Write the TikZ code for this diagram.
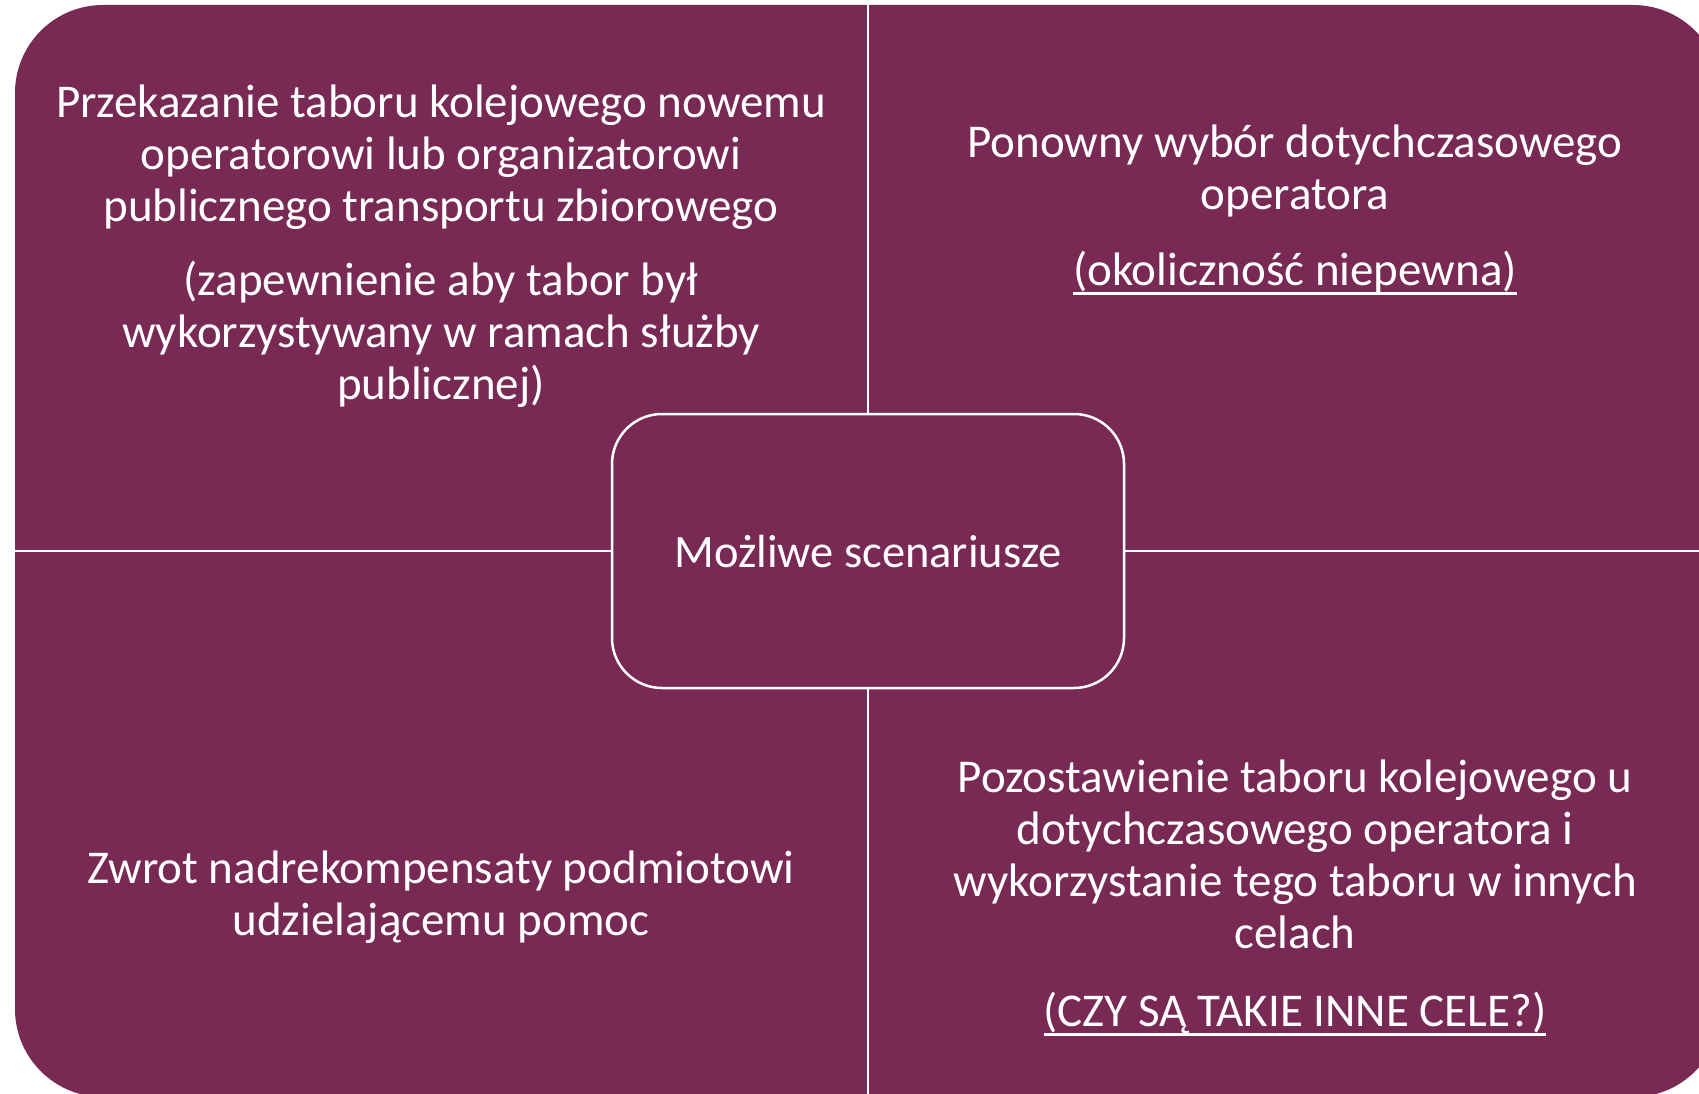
\documentclass[tikz,border=0pt]{standalone}
\usepackage{fontspec}
\setmainfont{Carlito}
\definecolor{plum}{RGB}{120,42,84}
\newsavebox{\ulbox}
\newcommand{\ulinetext}[1]{\sbox{\ulbox}{#1}\rlap{\vrule width\wd\ulbox height -7pt depth 9.5pt}\usebox{\ulbox}}

\begin{document}
\begin{tikzpicture}[x=1pt,y=-1pt,
		quad/.style={text=white, align=center, inner sep=0pt, font=\fontsize{47}{52}\selectfont},
		hub/.style={draw=white, line width=2.5pt, fill=plum, rounded corners=50pt, minimum width=512pt, minimum height=274pt, text=white, text height=33pt, text depth=0pt, font=\fontsize{46.5}{54}\selectfont}]
			\useasboundingbox (0,0) rectangle (1699,1094);
			\begin{scope}
				\clip (0,0) rectangle (1699,1094);
				\fill[plum, rounded corners=88pt] (15,5) rectangle (1721,1097);
				\draw[white, line width=2.5pt] (868,0) -- (868,1094);
				\draw[white, line width=2.5pt] (0,551) -- (1699,551);
			\end{scope}
			
			\node[hub] (hub) at (868,551) {Możliwe scenariusze};
			
			\node[quad, anchor=north] (handover) at (441,80.6) {\strut Przekazanie taboru kolejowego nowemu\\operatorowi lub organizatorowi\\publicznego transportu zbiorowego};
			\node[quad, anchor=north] (handnote) at (441,258.6) {\strut (zapewnienie aby tabor był\\wykorzystywany w ramach służby\\publicznej)};
			\node[quad, anchor=north] (reselect) at (1295,120.6) {\strut Ponowny wybór dotychczasowego\\operatora};
			\node[quad, anchor=base] (reselnote) at (1295,285) {\ulinetext{(okoliczność niepewna)}};
			\node[quad, anchor=north] (refund) at (441,846.6) {\strut Zwrot nadrekompensaty podmiotowi\\udzielającemu pomoc};
			\node[quad, anchor=north] (retain) at (1295,755.6) {\strut Pozostawienie taboru kolejowego u\\dotychczasowego operatora i\\wykorzystanie tego taboru w innych\\celach};
			\node[quad, anchor=base] (retainnote) at (1295,1026) {\ulinetext{(CZY SĄ TAKIE INNE CELE?)}};
		\end{tikzpicture}
\end{document}
